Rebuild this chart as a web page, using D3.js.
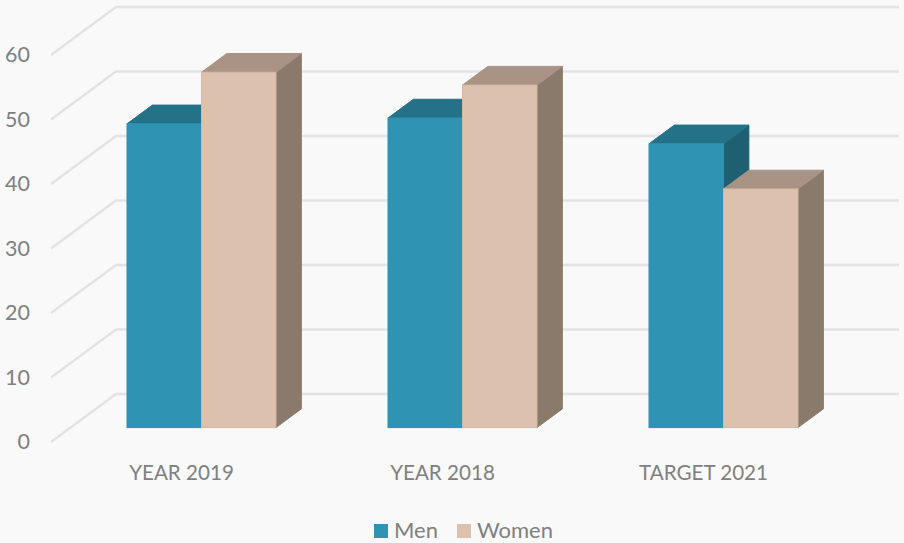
<!DOCTYPE html>
<html>
<head>
<meta charset="utf-8">
<script src="https://cdn.jsdelivr.net/npm/d3@7"></script>
<style>
html, body { margin: 0; padding: 0; background: #f9f9f9; }
svg { display: block; }
text { font-family: Lato, sans-serif; fill: #808080; }
</style>
</head>
<body>
<div id="chart"></div>
<script>
const categories = ["YEAR 2019", "YEAR 2018", "TARGET 2021"];
const seriesNames = ["Men", "Women"];
const men = [47.1, 48, 44];
const women = [55.1, 53.1, 37];
const ticks = [0, 10, 20, 30, 40, 50, 60];

const width = 904, height = 543;

const colors = {
	Men: { front: "#2f93b3", top: "#247287", side: "#1f5f72", edge: "#2f90af" },
	Women: { front: "#dcc1ae", top: "#a89384", side: "#8a7a6b", edge: "#d2b8a5" }
};

// front edge of the floor and of the left wall
var y = d3.scaleLinear().domain([0, 60]).range([442, 55]);
var x = d3.scaleBand().domain(categories).range([51, 834]);
var xInner = d3.scaleBand().domain(seriesNames).range([0, 149]);

// oblique projection, z 0 = front of box, z 1 = back wall
const wallDx = 65, wallDy = 48;
const zBar0 = 0.3, zBar1 = 0.69;
const px = z => z * wallDx;
const py = z => z * wallDy;

var svg = d3.select("#chart").append("svg")
	.attr("width", width)
	.attr("height", height)
	.attr("viewBox", [0, 0, width, height]);

svg.append("rect")
	.attr("width", width)
	.attr("height", height)
	.attr("fill", "#f9f9f9");

// gridlines, wall + back
var grid = svg.append("g")
	.attr("fill", "none")
	.attr("stroke", "#e3e3e3")
	.attr("stroke-width", 2.4);

grid.selectAll("path")
	.data(ticks)
	.join("path")
		.attr("d", d => {
			var p = d3.path();
			p.moveTo(x.range()[0], y(d));
			p.lineTo(x.range()[0] + px(1), y(d) - py(1));
			p.lineTo(x.range()[1] + px(1), y(d) - py(1));
			return p.toString();
		});

function poly(points) {
	return d3.line()(points) + "Z";
}

// bars, men first so women paint over them
var rows = [];
categories.forEach((c, i) => {
	rows.push({ cat: c, name: "Men", value: men[i] });
	rows.push({ cat: c, name: "Women", value: women[i] });
});

var bars = svg.append("g")
	.selectAll("g")
	.data(rows)
	.join("g")
		.attr("stroke-width", 1);

bars.each(function(d) {
	var g = d3.select(this);
	var col = colors[d.name];
	var x0 = x(d.cat) + x.bandwidth() / 2 - 74 + px(zBar0) + xInner(d.name);
	var x1 = x0 + xInner.bandwidth();
	var yBase = y(0) - py(zBar0);
	var yTop = y(d.value) - py(zBar0);
	var dx = px(zBar1 - zBar0);
	var dy = py(zBar1 - zBar0);

	g.append("path")
		.attr("d", poly([[x1, yTop], [x1 + dx, yTop - dy], [x1 + dx, yBase - dy], [x1, yBase]]))
		.attr("fill", col.side)
		.attr("stroke", col.side);
	g.append("path")
		.attr("d", poly([[x0, yTop], [x0 + dx, yTop - dy], [x1 + dx, yTop - dy], [x1, yTop]]))
		.attr("fill", col.top)
		.attr("stroke", col.top);
	g.append("rect")
		.attr("x", x0)
		.attr("y", yTop)
		.attr("width", x1 - x0)
		.attr("height", yBase - yTop)
		.attr("fill", col.front)
		.attr("stroke", col.edge);
});

// axes
var yAxis = svg.append("g")
	.attr("transform", "translate(30,0)")
	.call(d3.axisLeft(y).tickValues(ticks).tickSize(0).tickPadding(0));
yAxis.select(".domain").remove();
yAxis.selectAll("text")
	.attr("font-size", 21.5)
	.style("font-family", "Lato, sans-serif")
	.style("fill", "#808080");

var xAxis = svg.append("g")
	.attr("transform", "translate(0,473)")
	.call(d3.axisBottom(x).tickSize(0).tickPadding(0));
xAxis.select(".domain").remove();
xAxis.selectAll("text")
	.attr("font-size", 20.6)
	.attr("dy", "0.32em")
	.attr("y", 0)
	.style("font-family", "Lato, sans-serif")
	.style("fill", "#808080");

// legend
var legendX = d3.scaleOrdinal().domain(seriesNames).range([374, 457]);
var legend = svg.append("g")
	.selectAll("g")
	.data(seriesNames)
	.join("g")
		.attr("transform", d => `translate(${legendX(d)},524)`);

legend.append("rect")
	.attr("width", 14)
	.attr("height", 14)
	.attr("fill", d => colors[d].front);

legend.append("text")
	.attr("x", 20)
	.attr("y", 14)
	.attr("font-size", 22)
	.text(d => d);
</script>
</body>
</html>
